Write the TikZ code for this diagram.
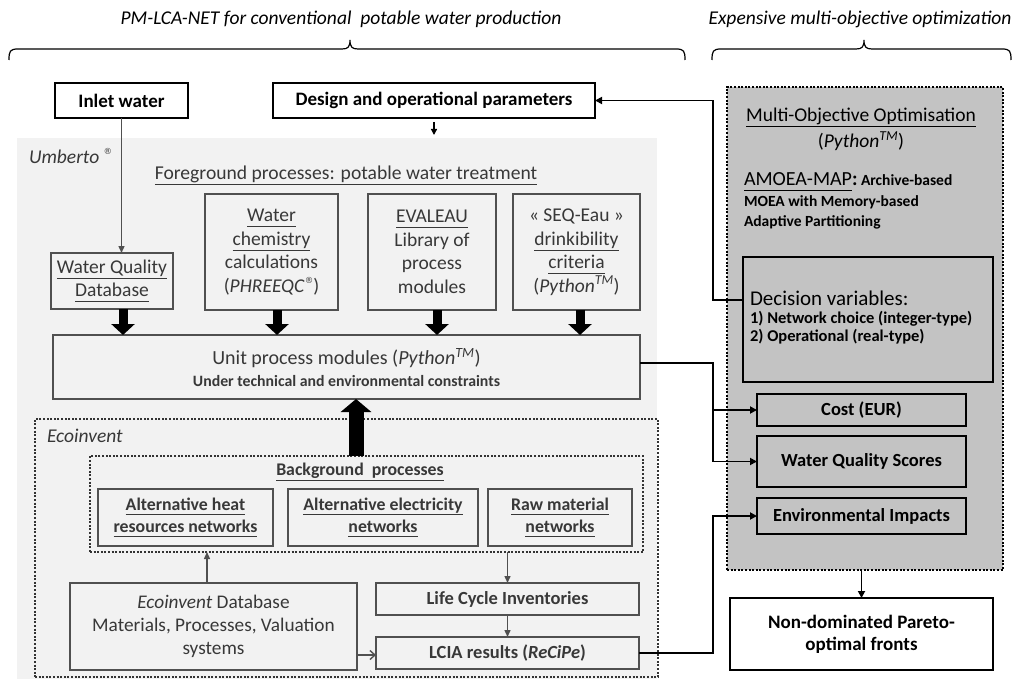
\documentclass[tikz,border=0pt]{standalone}
\usepackage{fontspec}
\setmainfont{Carlito}
\newfontfamily\symfont{DejaVu Sans}
\usetikzlibrary{arrows.meta,calc}
\definecolor{bglight}{HTML}{F2F2F2}
\definecolor{moogray}{HTML}{C3C3C3}
\definecolor{gline}{HTML}{505050}
\definecolor{gtext}{HTML}{383838}
\newcommand\ulx[1]{\underline{#1\vphantom{gy}}}
\newcommand\tmk{\textsuperscript{\textit{TM}}}
\newcommand\pyth{\textit{Python}\tmk}
\newcommand\regm{\raisebox{0.42em}{\symfont\fontsize{8.5}{9}\selectfont ®}}
\newcommand\fsz[2]{\fontsize{#1}{#2}\selectfont}
\begin{document}
\begin{tikzpicture}[x=1pt,y=-1pt,
  every node/.style={inner sep=0pt,outer sep=0pt},
  bbox/.style={draw=black,line width=2.4pt,fill=white,align=center,font=\fsz{19}{22}\bfseries},
  gbox/.style={draw=gline,line width=2.8pt,fill=bglight,align=center,text=gtext},
  fgtxt/.style={font=\fsz{19.5}{23.5}},
  bgtxt/.style={font=\fsz{17.8}{22}\bfseries},
  mbox/.style={draw=black,line width=2.4pt,fill=moogray,align=center,font=\fsz{18.5}{20}\bfseries},
  dotbox/.style={draw=#1,line width=2pt,dash pattern=on 2pt off 1.6pt},
  garr/.style={draw=gline,line width=1.4pt,-{Triangle[length=7pt,width=6pt]}},
  gopen/.style={draw=gline,line width=1.4pt,-{Straight Barb[length=5pt,width=9pt,line width=1.4pt]}},
  barr/.style={draw=black,line width=1.8pt,-{Triangle[length=7pt,width=7pt]}},
  fatdown/.style={draw=black,line width=9pt,-{Triangle[length=11pt,width=23pt]}},
  fatup/.style={draw=black,line width=15pt,-{Triangle[length=13pt,width=30pt]}},
  bracel/.style={draw=black,line width=1.2pt}
]
\useasboundingbox (0,0) rectangle (1014,679);

% titles and braces
\node[font=\fsz{19.5}{22}\itshape] (t1) at (341,19) {PM-LCA-NET for conventional\ \ potable water production};
\node[font=\fsz{19.5}{22}\itshape] (t2) at (860,19) {Expensive multi-objective optimization};
\draw[bracel] (9,60) .. controls (9,51) and (10,49) .. (18,49) -- (342,49)
   .. controls (348,49) and (350,47) .. (350,40) .. controls (350,47) and (352,49) .. (358,49)
   -- (676,49) .. controls (684,49) and (685,51) .. (685,60);
\draw[bracel] (712,60) .. controls (712,51) and (713,49) .. (721,49) -- (856,49)
   .. controls (862,49) and (864,47) .. (864,40) .. controls (864,47) and (866,49) .. (872,49)
   -- (1002,49) .. controls (1010,49) and (1011,51) .. (1011,60);

% regions
\node[fill=bglight,minimum width=640,minimum height=541] (umb) at (337,408.5) {};
\node[dotbox=black!80,minimum width=623,minimum height=258] (ecr) at (346.5,548) {};
\node[dotbox=black!80,minimum width=553,minimum height=96] (bgr) at (366.5,504) {};
\node[dotbox=black,line width=2.4pt,fill=moogray,minimum width=276,minimum height=483] (moo) at (865,328.5) {};

% top boxes
\node[bbox,minimum width=133,minimum height=35] (iw) at (121.5,100.5) {Inlet water};
\node[bbox,minimum width=322,minimum height=35] (dp) at (434,100.5) {Design and operational parameters};

% Umberto labels
\node[anchor=west,text=gtext,font=\fsz{19.5}{22}] (umbl) at (29,156) {\textit{Umberto} \regm};
\node[text=gtext,font=\fsz{19.6}{22}] (fgl) at (346,175) {\ulx{Foreground processes: potable water treatment}};

% foreground boxes
\node[gbox,fgtxt,minimum width=122,minimum height=56] (wqd) at (112,281) {\ulx{Water Quality}\\\ulx{Database}};
\node[gbox,fgtxt,minimum width=133,minimum height=116] (wcc) at (271.5,252) {\ulx{Water}\\\ulx{chemistry}\\calculations\\(\textit{PHREEQC}\regm)};
\node[gbox,fgtxt,minimum width=128,minimum height=116] (eva) at (432,252) {\ulx{EVALEAU}\\Library of\\process\\modules};
\node[gbox,fgtxt,minimum width=127,minimum height=116] (seq) at (576.5,252) {« SEQ-Eau »\\\ulx{drinkibility}\\\ulx{criteria}\\(\pyth)};

% unit process modules
\node[gbox,minimum width=587,minimum height=64] (upm) at (346.5,367) {};
\node[text=gtext,font=\fsz{20}{22}] (upm1) at (346.5,358) {Unit process modules (\pyth)};
\node[text=gtext,font=\fsz{15.8}{18}\bfseries] (upm2) at (346.5,381) {Under technical and environmental constraints};

% Ecoinvent
\node[anchor=west,text=gtext,font=\fsz{19.5}{22}\itshape] (ecl) at (47,436) {Ecoinvent};
\node[text=gtext,font=\fsz{17.8}{21}\bfseries] (bgl) at (360,472) {\ulx{Background\ \ processes}};
\node[gbox,bgtxt,minimum width=175,minimum height=57] (ah) at (185.5,517.5) {\ulx{Alternative heat}\\\ulx{resources networks}};
\node[gbox,bgtxt,minimum width=190,minimum height=57] (ae) at (383,517.5) {\ulx{Alternative electricity}\\\ulx{networks}};
\node[gbox,bgtxt,minimum width=144,minimum height=57] (rm) at (560,517.5) {\ulx{Raw material}\\\ulx{networks}};
\node[gbox,font=\fsz{19.3}{23},minimum width=287,minimum height=87] (edb) at (213.5,626.5) {\textit{Ecoinvent} Database\\Materials, Processes, Valuation\\systems};
\node[gbox,font=\fsz{18.5}{20}\bfseries,minimum width=263,minimum height=32] (lci) at (507.5,599) {Life Cycle Inventories};
\node[gbox,font=\fsz{18.5}{20}\bfseries,minimum width=263,minimum height=32] (lcia) at (507.5,653) {LCIA results (\textit{ReCiPe})};

% MOO panel
\node[font=\fsz{19.5}{22}] (moot) at (861,117) {\ulx{Multi-Objective Optimisation}};
\node[font=\fsz{19.5}{22}] (moop) at (861,141) {(\pyth)};
\node[anchor=west,font=\fsz{20}{22}] (am1) at (744,182) {\ulx{AMOEA-MAP}\textbf{:}\fsz{15.5}{18}\bfseries\ Archive-based};
\node[anchor=west,font=\fsz{15.5}{18}\bfseries] (am2) at (744,202) {MOEA with Memory-based};
\node[anchor=west,font=\fsz{15.5}{18}\bfseries] (am3) at (744,222) {Adaptive Partitioning};
\node[mbox,minimum width=250,minimum height=125] (dv) at (868,319.5) {};
\node[anchor=base west,font=\fsz{21}{24}] (dv1) at (750,305) {Decision variables:};
\node[anchor=base west,font=\fsz{16.5}{18}\bfseries] (dv2) at (750,323) {1) Network choice (integer-type)};
\node[anchor=base west,font=\fsz{16.5}{18}\bfseries] (dv3) at (750,341) {2) Operational (real-type)};
\node[mbox,minimum width=209,minimum height=32] (cost) at (861.5,410) {Cost (EUR)};
\node[mbox,minimum width=209,minimum height=51] (wqs) at (861.5,461.5) {Water Quality Scores};
\node[mbox,minimum width=209,minimum height=36] (env) at (861.5,516) {Environmental Impacts};
\node[bbox,minimum width=263,minimum height=72] (ndp) at (861.5,634) {Non-dominated Pareto-\\optimal fronts};

% helper coordinates
\coordinate (jx) at (713,0);
\coordinate (a1) at (123,0);
\coordinate (a2) at (277,0);
\coordinate (a3) at (437,0);
\coordinate (a4) at (580,0);
\coordinate (fx) at (356,0);
\coordinate (e1) at (207,0);
\coordinate (e2) at (0,655);

% connectors
\draw[garr] (iw.south) -- (iw.south |- wqd.north);
\draw[barr,line width=1.3pt,-{Triangle[length=6pt,width=6pt]}] ([yshift=-4pt]dp.south) -- ([yshift=3pt]dp.south |- umb.north);
\draw[fatdown] (wqd.south -| a1) -- (upm.north -| a1);
\draw[fatdown] (wcc.south -| a2) -- (upm.north -| a2);
\draw[fatdown] (eva.south -| a3) -- (upm.north -| a3);
\draw[fatdown] (seq.south -| a4) -- (upm.north -| a4);
\draw[fatup] (bgr.north -| fx) -- (upm.south -| fx);
\draw[garr] (edb.north -| e1) -- (bgr.south -| e1);
\draw[garr] (bgr.south -| lci.north) -- (lci.north);
\draw[garr] (lci.south) -- (lcia.north);
\draw[gopen] (edb.east |- e2) -- (lcia.west |- e2);
\draw[barr] ([yshift=4pt]upm.east) -| (jx |- wqs.west) -- (wqs.west);
\draw[barr] (jx |- cost.west) -- (cost.west);
\draw[barr] (lcia.east) -| (jx |- env.west) -- (env.west);
\draw[barr] ([yshift=19.5pt]dv.west) -| (jx |- dp.east) -- (dp.east);
\draw[barr] (moo.south -| ndp.north) -- (ndp.north);
\end{tikzpicture}
\end{document}
